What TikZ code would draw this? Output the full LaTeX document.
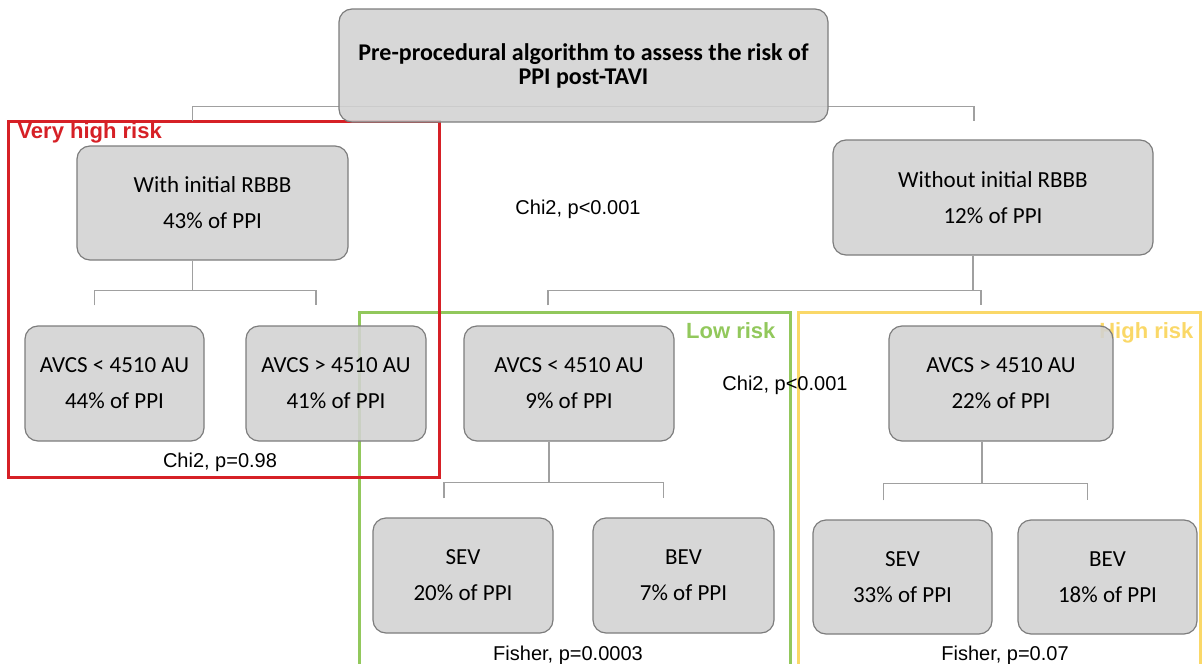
\documentclass[tikz,border=0pt]{standalone}
\usepackage{fontspec}
\setmainfont{Carlito}
\newfontfamily\arialfont{Liberation Sans}
\usetikzlibrary{backgrounds}
\definecolor{boxgray}{RGB}{210,210,210}
\definecolor{edgegray}{RGB}{125,125,125}
\definecolor{linegray}{RGB}{160,160,160}
\definecolor{riskred}{RGB}{214,32,38}
\definecolor{riskgreen}{RGB}{146,200,92}
\definecolor{riskyellow}{RGB}{250,216,104}

\begin{document}
\begin{tikzpicture}[x=1pt,y=-1pt,
  box/.style={draw=edgegray, line width=1.2pt, fill=boxgray, fill opacity=0.88, text opacity=1,
    rounded corners=13pt, align=center, inner sep=0pt, font=\fontsize{23}{36}\selectfont},
  conn/.style={draw=linegray, line width=1.5pt},
  stat/.style={font=\arialfont\fontsize{20}{24}\selectfont, anchor=base},
  risk/.style={font=\arialfont\bfseries\fontsize{22}{26}\selectfont},
  frame/.style={line width=3pt}]
\useasboundingbox (0,0) rectangle (1203,664);

% boxes
\node[box, minimum width=489pt, minimum height=113pt, font=\bfseries\fontsize{24}{24}\selectfont]
  (top) at (583.5,65.5) {Pre-procedural algorithm to assess the risk of\\PPI post-TAVI};
\node[box, minimum width=271pt, minimum height=114pt] (with) at (212.5,203) {With initial RBBB\\43\% of PPI};
\node[box, minimum width=320pt, minimum height=115pt] (without) at (993,197.5) {Without initial RBBB\\12\% of PPI};
\node[box, minimum width=179pt, minimum height=115pt] (avlo1) at (114.5,383.5) {AVCS < 4510 AU\\44\% of PPI};
\node[box, minimum width=180pt, minimum height=115pt] (avhi1) at (336,383.5) {AVCS > 4510 AU\\41\% of PPI};
\node[box, minimum width=210pt, minimum height=115pt] (avlo2) at (569,383.5) {AVCS < 4510 AU\\9\% of PPI};
\node[box, minimum width=224pt, minimum height=115pt] (avhi2) at (1001,383.5) {AVCS > 4510 AU\\22\% of PPI};
\node[box, minimum width=180pt, minimum height=115pt] (sev1) at (463,575.5) {SEV\\20\% of PPI};
\node[box, minimum width=181pt, minimum height=115pt] (bev1) at (683.5,575.5) {BEV\\7\% of PPI};
\node[box, minimum width=179pt, minimum height=114pt] (sev2) at (902.5,577) {SEV\\33\% of PPI};
\node[box, minimum width=179pt, minimum height=114pt] (bev2) at (1107.5,577) {BEV\\18\% of PPI};

\begin{scope}[on background layer]
% risk groups
\draw[frame, riskgreen] (359,668) |- (790,312) -- (790,668);
\draw[frame, riskyellow] (798,668) |- (1200,312) -- (1200,668);
\draw[frame, riskred] (8,121) rectangle (439,477);
\node[risk, text=riskred, anchor=base west] (vhigh) at (14,138) {Very high risk};
\node[risk, text=riskgreen, anchor=base east] (low) at (779,338) {Low risk};
\node[risk, text=riskyellow, anchor=base east] (high) at (1197,338) {High risk};

% tests
\node[stat] (t1) at (578,214) {Chi2, p<0.001};
\node[stat] (t2) at (220,467) {Chi2, p=0.98};
\node[stat] (t3) at (785,390) {Chi2, p<0.001};
\node[stat] (t4) at (568,660) {Fisher, p=0.0003};
\node[stat] (t5) at (1005,660) {Fisher, p=0.07};

% tree lines
\draw[conn] ([xshift=-20pt,yshift=24pt]with.north) -- ++(0,-15) -| ([xshift=-19pt,yshift=18pt]without.north);
\draw[conn] ([xshift=-20pt]with.south) -- ++(0,30) coordinate (wsplit);
\draw[conn] ([xshift=-20pt,yshift=20pt]avlo1.north) |- (wsplit) -| ([xshift=-20pt,yshift=20pt]avhi1.north);
\draw[conn] ([xshift=-20pt]without.south) -- ++(0,35) coordinate (nsplit);
\draw[conn] ([xshift=-21pt,yshift=20pt]avlo2.north) |- (nsplit) -| ([xshift=-20pt,yshift=20pt]avhi2.north);
\draw[conn] ([xshift=-20pt]avlo2.south) -- ++(0,41) coordinate (lsplit);
\draw[conn] ([xshift=-19pt,yshift=19pt]sev1.north) |- (lsplit) -| ([xshift=-20pt,yshift=19pt]bev1.north);
\draw[conn] ([xshift=-19pt]avhi2.south) -- ++(0,42) coordinate (hsplit);
\draw[conn] ([xshift=-19pt,yshift=19pt]sev2.north) |- (hsplit) -| ([xshift=-20pt,yshift=19pt]bev2.north);
\end{scope}
\end{tikzpicture}
\end{document}
